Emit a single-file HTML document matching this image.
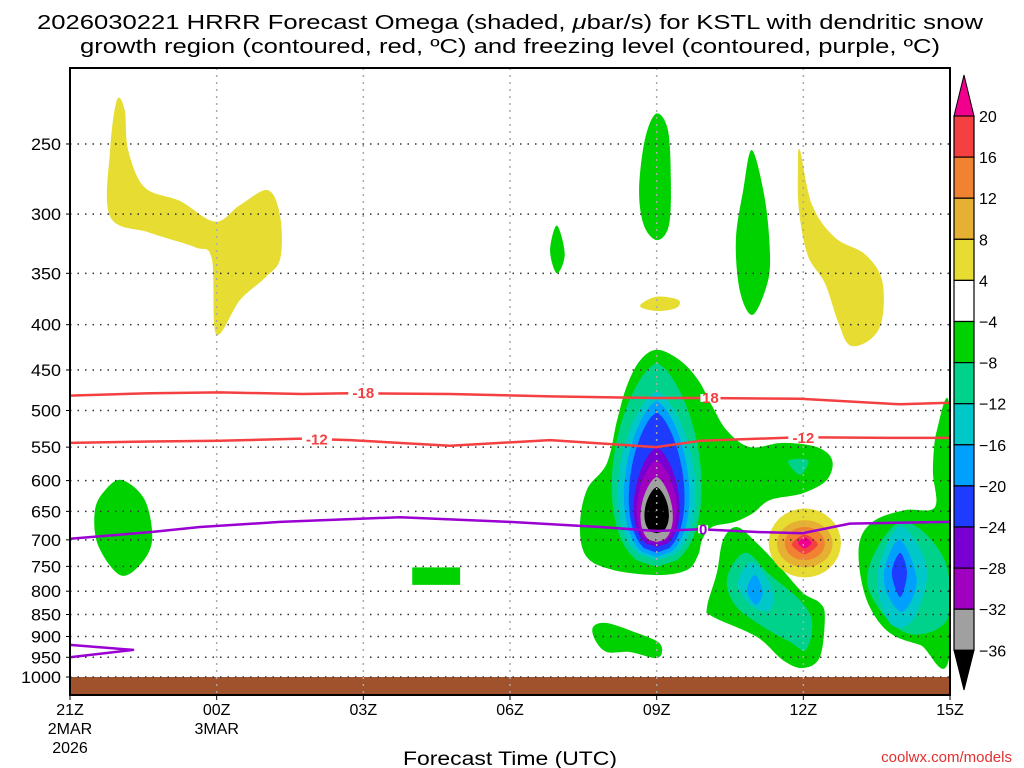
<!DOCTYPE html>
<html><head><meta charset="utf-8"><style>
html,body{margin:0;padding:0;background:#fff;}
svg{display:block;font-family:"Liberation Sans",sans-serif;}
</style></head>
<body>
<svg id="chart" width="1024" height="768" viewBox="0 0 1024 768" xmlns="http://www.w3.org/2000/svg">
<g font-size="20" fill="#000" text-anchor="middle">
<text x="510" y="29" textLength="946" lengthAdjust="spacingAndGlyphs">2026030221 HRRR Forecast Omega (shaded, <tspan font-style="italic">μ</tspan>bar/s) for KSTL with dendritic snow</text>
<text x="510" y="53" textLength="860" lengthAdjust="spacingAndGlyphs">growth region (contoured, red, ºC) and freezing level (contoured, purple, ºC)</text>
</g>
<g id="fills"></g>
<g id="grid"></g>
<g id="lines"></g>
<g id="axes"></g>
<g id="cbar"></g>
<text x="510" y="765" font-size="19" text-anchor="middle" textLength="214" lengthAdjust="spacingAndGlyphs">Forecast Time (UTC)</text>
<text x="1012" y="762" font-size="15" fill="#e03030" text-anchor="end">coolwx.com/models</text>
</svg>
<script>
// ---- data ----
const pressureTicks = [250,300,350,400,450,500,550,600,650,700,750,800,850,900,950,1000];
const hourTicks = [0,3,6,9,12,15,18];
const hourLabels = [["21Z","2MAR","2026"],["00Z","3MAR"],["03Z"],["06Z"],["09Z"],["12Z"],["15Z"]];
const cbarLevels = [20,16,12,8,4,-4,-8,-12,-16,-20,-24,-28,-32,-36];
const cbarColors = ["#f44040","#f08232","#e6b032","#e6dc32","#ffffff","#00d200","#00d28c","#00c8c8","#00a0ff","#1e3cff","#7800d2","#a000c0","#a0a0a0"];
const colorAbove = "#f0008c", colorBelow = "#000000";
// contour polygons [hour, hPa]
const yellowA = [[0.96,223],[0.82,254],[0.82,302],[1.64,315],[2.56,327],[2.9,337],[2.99,410],[3.48,375],[3.99,354],[4.3,337],[4.3,302],[4.05,282],[3.48,293],[2.97,306],[2.25,290],[1.53,280],[1.19,254],[1.12,229]];
const yellowB = [[14.93,254],[15.18,293],[15.65,319],[16.26,333],[16.61,356],[16.61,395],[16.36,416],[15.95,422],[15.71,397],[15.44,359],[15.09,334],[14.91,297],[14.89,267]];
const yellowC = [[11.66,381],[11.99,372],[12.44,375],[12.4,383],[11.99,386]];
const greenTop = [[11.99,231],[12.23,241],[12.29,275],[12.25,309],[12.01,321],[11.74,309],[11.64,282],[11.76,247]];
const greenSmall = [[9.96,309],[10.12,333],[9.96,350],[9.82,330]];
const green11 = [[13.95,254],[14.22,290],[14.32,338],[14.22,366],[13.95,390],[13.7,366],[13.62,321],[13.77,282]];
const greenLeft = [[1.06,599],[1.53,631],[1.68,700],[1.43,747],[1.02,767],[0.57,709],[0.51,648],[0.72,615]];
const greenRect = [[7.0,752],[7.98,752],[7.98,787],[7.0,787]];
const greenLow = [[10.7,878],[10.98,869],[11.6,892],[12.03,913],[12.11,937],[11.97,952],[11.45,937],[10.98,937],[10.74,908]];
const greenBig = [[12.01,427],[12.48,439],[12.85,462],[13.15,496],[13.44,527],[13.91,550],[14.58,544],[15.28,550],[15.59,569],[15.48,599],[14.99,620],[14.32,631],[13.97,653],[13.6,668],[13.13,677],[12.93,700],[12.85,728],[12.62,757],[12.01,767],[11.11,757],[10.57,732],[10.43,677],[10.57,615],[10.98,574],[11.19,513],[11.39,469],[11.66,439]];
const greenLower = [[13.64,677],[14.05,706],[14.52,751],[14.99,803],[15.34,825],[15.44,855],[15.34,949],[14.99,977],[14.58,957],[14.05,901],[13.15,855],[13.03,834],[13.23,763],[13.36,700]];
const greenRight = [[16.16,700],[16.47,665],[17.08,648],[17.69,643],[17.65,584],[17.73,527],[18,502],[18,939],[17.39,920],[16.77,892],[16.36,834],[16.16,763]];
const tealSmall = [[14.69,570],[15.1,569],[14.93,591]];
const lowTeal = [[13.81,724],[14.32,767],[14.93,819],[15.18,867],[15.05,932],[14.73,913],[14.11,873],[13.6,829],[13.44,773]];
const lowCyan = [[13.95,742],[14.36,794],[14.32,840],[13.95,832],[13.66,785]];
const lowBlue = [[14.01,767],[14.17,802],[14.03,829],[13.85,798]];
const rTeal = [[16.98,668],[17.86,732],[17.94,862],[17.04,889],[16.3,777]];
const rCyan = [[16.98,676],[17.53,755],[17.24,862],[16.77,869],[16.51,767]];
const rLBlue = [[16.98,700],[17.32,777],[17.04,844],[16.71,804],[16.67,751]];
const rBlue = [[16.98,724],[17.12,763],[16.98,812],[16.81,763]];
// central updraft core: [pTop, pBottom, halfWidthHours]
const coreHour = 12;
const coreTop = [441,475,487,502,550,569,594,610];
const coreBot = [751,738,732,724,713,706,704,688];
const coreHalfW = [0.92,0.8,0.67,0.57,0.47,0.41,0.33,0.25];
const coreColors = ["#00d28c","#00c8c8","#00a0ff","#1e3cff","#7800d2","#a000c0","#a0a0a0","#000000"];
// downward blob at 12Z
const blobHour = 15.03;
const blobTop = [645,665,677,690,695];
const blobBot = [772,752,738,727,716];
const blobHalfW = [0.74,0.57,0.41,0.27,0.14];
const blobColors = ["#e6dc32","#e6b032","#f08232","#f44040","#f0008c"];
// temperature contours
const lineHours = [0,1.64,3.07,4.75,5.73,7.77,9.82,11.99,12.89,14.93,16.98,18];
const tMinus18 = [481,478,477,479,478,479,482,484,484,485,492,490];
const tMinus12 = [544,542,541,538,540,548,540,550,541,536,537,537];
const hoursFrz = [0,1.64,2.66,4.3,6.75,9.0,10.84,11.99,12.89,14.11,14.99,15.95,18];
const tZero = [698,686,677,668,660,668,677,684,681,686,688,671,668];
const frzLoopH = [0,1.29,0];
const frzLoopP = [920,932,950];

// ---- axes functions ----
const X0=70,X1=950,Y0=68,Y1=695;
const xs = h => X0 + h*(X1-X0)/18;
const ys = p => 677 - 384.5*Math.log(1000/p);
const NS="http://www.w3.org/2000/svg";
function mk(tag, attrs, parent){const e=document.createElementNS(NS,tag);for(const k in attrs)e.setAttribute(k,attrs[k]);parent.appendChild(e);return e;}
function smoothPath(pts){
  const n=pts.length;let d=`M${pts[0][0]},${pts[0][1]}`;
  for(let i=0;i<n;i++){const p0=pts[(i-1+n)%n],p1=pts[i],p2=pts[(i+1)%n],p3=pts[(i+2)%n];
    d+=` C${p1[0]+(p2[0]-p0[0])/6},${p1[1]+(p2[1]-p0[1])/6} ${p2[0]-(p3[0]-p1[0])/6},${p2[1]-(p3[1]-p1[1])/6} ${p2[0]},${p2[1]}`;}
  return d+"Z";
}
const fills=document.getElementById('fills');
function poly(data,color,name,smooth=true){
  const pts=data.map(d=>[xs(d[0]),ys(d[1])]);
  const e=mk('path',{d:smooth?smoothPath(pts):"M"+pts.map(p=>p.join(",")).join("L")+"Z",fill:color},fills);
  
  
}
const defs=mk('defs',{},document.getElementById('chart'));
const cp=mk('clipPath',{id:'pc'},defs);mk('rect',{x:X0,y:Y0,width:X1-X0,height:Y1-Y0},cp);
fills.setAttribute('clip-path','url(#pc)');

poly(yellowA,"#e6dc32","yellow-area-upper-left");
poly(yellowB,"#e6dc32","yellow-area-upper-right");
poly(yellowC,"#e6dc32","yellow-area-small");
poly(greenTop,"#00d200","green-area-09z-top");
poly(greenSmall,"#00d200","green-area-small");
poly(green11,"#00d200","green-area-11z");
poly(greenLeft,"#00d200","green-area-left");
poly(greenRect,"#00d200","green-area-rect",false);
poly(greenLow,"#00d200","green-area-low");
poly(greenBig,"#00d200","green-area-main");
poly(greenLower,"#00d200","green-area-lower");
poly(greenRight,"#00d200","green-area-right");
poly(tealSmall,"#00d28c","teal-area-small");
poly(lowTeal,"#00d28c","lower-teal");
poly(lowCyan,"#00c8c8","lower-cyan");
poly(lowBlue,"#00a0ff","lower-lightblue");
poly(rTeal,"#00d28c","right-teal");
poly(rCyan,"#00c8c8","right-cyan");
poly(rLBlue,"#00a0ff","right-lightblue");
poly(rBlue,"#1e3cff","right-blue");

// teardrop core
for(let i=0;i<coreTop.length;i++){
  const yt=ys(coreTop[i]),yb=ys(coreBot[i]),cx=xs(coreHour),hw=xs(coreHalfW[i])-xs(0);
  const N=30,L=[],R=[];
  for(let k=0;k<=N;k++){const t=k/N;const w=Math.pow(t,0.7)*Math.pow(1-t,0.45)/0.463;const y=yt+(yb-yt)*t;R.push([cx+hw*w,y]);L.unshift([cx-hw*w,y]);}
  const pts=R.concat(L);
  const e=mk('path',{d:"M"+pts.map(p=>p.map(v=>v.toFixed(1)).join(",")).join("L")+"Z",fill:coreColors[i]},fills);
  
  
}
// blob
for(let i=0;i<blobTop.length;i++){
  const yt=ys(blobTop[i]),yb=ys(blobBot[i]),cx=xs(blobHour),hw=xs(blobHalfW[i])-xs(0),cy=(yt+yb)/2,ry=(yb-yt)/2;
  const pts=[];for(let k=0;k<32;k++){const a=k/32*2*Math.PI;const c=Math.cos(a),s=Math.sin(a);
    const pw=i>=3?1.3:2;const f=Math.pow(Math.pow(Math.abs(c),pw)+Math.pow(Math.abs(s),pw),-1/pw);
    pts.push([cx+hw*c*f,cy+ry*s*f]);}
  const e=mk('path',{d:"M"+pts.map(p=>p.map(v=>v.toFixed(1)).join(",")).join("L")+"Z",fill:blobColors[i]},fills);
  
  
}
const ter=mk('rect',{x:X0,y:ys(1000),width:X1-X0,height:Y1-ys(1000),fill:"#a0522d"},fills);



// grid
const grid=document.getElementById('grid');
pressureTicks.forEach(p=>{const e=mk('line',{x1:X0,x2:X1,y1:ys(p),y2:ys(p),stroke:"#333","stroke-width":1.5,"stroke-dasharray":"1.5 6"},grid);
  
  });
hourTicks.forEach(h=>{if(h===0||h===18)return;const e=mk('line',{x1:xs(h),x2:xs(h),y1:Y0,y2:Y1,stroke:"#aaa","stroke-width":1.5,"stroke-dasharray":"2 5"},grid);
  
  });

// lines
const lines=document.getElementById('lines');
function line(hs,ps,color,name){
  const pts=hs.map((h,i)=>xs(h).toFixed(1)+","+ys(ps[i]).toFixed(1));
  const e=mk('polyline',{points:pts.join(" "),fill:"none",stroke:color,"stroke-width":2.5,"stroke-linejoin":"round"},lines);
  
  
}
line(lineHours,tMinus18,"#f44040","contour-minus18");
line(lineHours,tMinus12,"#f44040","contour-minus12");
line(hoursFrz,tZero,"#9b00d2","freezing-level");
line(frzLoopH,frzLoopP,"#9b00d2","freezing-level-loop");
function lbl(h,p,txt,color,name,bg){
  const x=xs(h),y=ys(p);
  if(bg) mk('rect',{x:x-txt.length*5,y:y-4,width:txt.length*10,height:8,fill:bg},lines);
  const t=mk('text',{x:x,y:y+5,"font-size":15,"font-weight":"bold",fill:color,"text-anchor":"middle"},lines);
  t.textContent=txt;
  
  
}
lbl(6.0,478,"-18","#f44040","label-minus18-a","#fff");
lbl(13.1,484,"18","#f44040","label-minus18-b","#fff");
lbl(5.05,539,"-12","#f44040","label-minus12-a","#fff");
lbl(15.0,537,"-12","#f44040","label-minus12-b","#fff");
lbl(12.95,681,"0","#9b00d2","label-zero","#fff");

// axes
const ax=document.getElementById('axes');
mk('rect',{x:X0,y:Y0,width:X1-X0,height:Y1-Y0,fill:"none",stroke:"#000","stroke-width":2},ax);
pressureTicks.forEach(p=>{
  mk('line',{x1:X0-4,x2:X0,y1:ys(p),y2:ys(p),stroke:"#000"},ax);
  const t=mk('text',{x:61,y:ys(p)+6,"font-size":17,"text-anchor":"end",textLength:String(p).length*10,lengthAdjust:"spacingAndGlyphs"},ax);
  t.textContent=p;
  
  
});
hourTicks.forEach((h,i)=>{
  mk('line',{x1:xs(h),x2:xs(h),y1:Y1,y2:Y1+5,stroke:"#000"},ax);
  hourLabels[i].forEach((s,j)=>{
    const t=mk('text',{x:xs(h),y:715+j*19,"font-size":16,"text-anchor":"middle"},ax);
    t.textContent=s;
    
    
  });
});

// colorbar
const cb=document.getElementById('cbar');
const CBX=954,CBW=20,CBT=116,CBS=41.1;
cbarColors.forEach((c,i)=>{
  const r=mk('rect',{x:CBX,y:CBT+i*CBS,width:CBW,height:CBS,fill:c,stroke:"#000","stroke-width":1.2},cb);
  
  
});
const bot=CBT+cbarColors.length*CBS;
mk('polygon',{points:`${CBX},${CBT} ${CBX+CBW},${CBT} ${CBX+CBW/2},75`,fill:colorAbove,stroke:"#000"},cb);
mk('polygon',{points:`${CBX},${bot} ${CBX+CBW},${bot} ${CBX+CBW/2},690`,fill:colorBelow,stroke:"#000"},cb);
cbarLevels.forEach((v,i)=>{
  const t=mk('text',{x:979,y:CBT+i*CBS+6,"font-size":16},cb);
  t.textContent=v<0?"−"+Math.abs(v):String(v);
  
  
});
</script>
</body></html>
